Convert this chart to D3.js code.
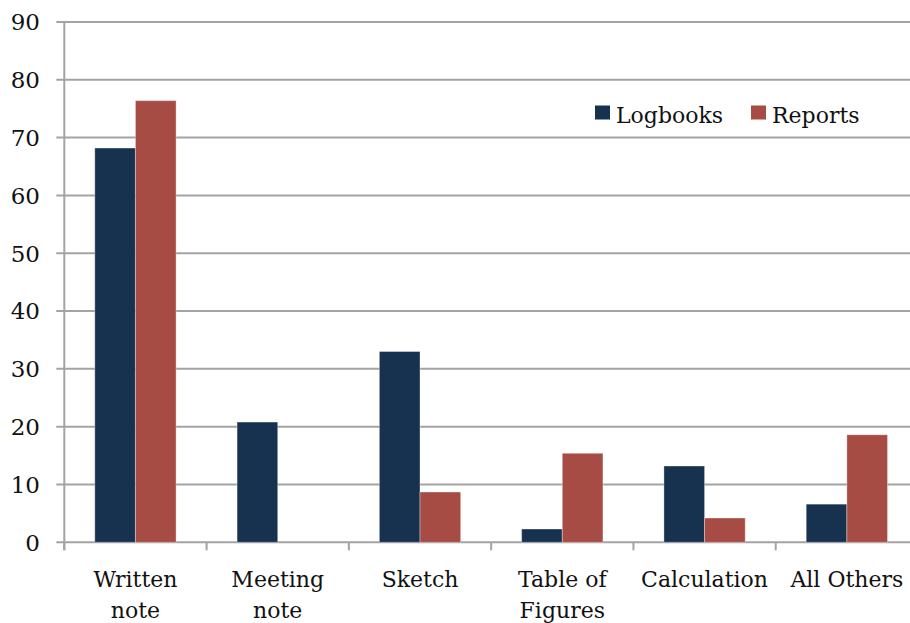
<!DOCTYPE html>
<html>
<head>
<meta charset="utf-8">
<script src="https://cdn.jsdelivr.net/npm/d3@7"></script>
<style>
  body { margin: 0; background: #fff; }
</style>
</head>
<body>
<div id="plot"></div>
<script>
const categories = [["Written", "note"], ["Meeting", "note"], ["Sketch"], ["Table of", "Figures"], ["Calculation"], ["All Others"]];
const seriesNames = ["Logbooks", "Reports"];
const logbooks = [68.2, 20.8, 33.0, 2.3, 13.2, 6.6];
const reports = [76.4, 0, 8.7, 15.4, 4.2, 18.6];
const yTicks = [0, 10, 20, 30, 40, 50, 60, 70, 80, 90];

const width = 910, height = 623;
const plotLeft = 64.3, plotRight = 918, plotTop = 22, plotBottom = 542.3;
const colors = ["#17324f", "#a64c45"];
const gridColor = "#a3a3a3";
const fontFamily = "'DejaVu Serif', serif";

const svg = d3.select("div#plot")
  .append("svg")
  .attr("width", width)
  .attr("height", height)
  .style("font-family", fontFamily);

const x = d3.scaleBand()
  .domain(d3.range(categories.length))
  .range([plotLeft, plotRight])
  .paddingInner(0)
  .paddingOuter(0);

const x1 = d3.scaleBand()
  .domain(seriesNames)
  .range([0, x.bandwidth()])
  .paddingInner(0)
  .paddingOuter(0.75);

const y = d3.scaleLinear()
  .domain([0, 90])
  .range([plotBottom, plotTop]);

// horizontal grid lines + y ticks
svg.selectAll(".grid")
  .data(yTicks)
  .join("line")
  .attr("class", "grid")
  .attr("x1", plotLeft - 8)
  .attr("x2", width)
  .attr("y1", d => y(d))
  .attr("y2", d => y(d))
  .attr("stroke", gridColor)
  .attr("stroke-width", 2);

svg.selectAll(".ylabel")
  .data(yTicks)
  .join("text")
  .attr("class", "ylabel")
  .attr("x", 40)
  .attr("y", d => y(d))
  .attr("dy", "0.36em")
  .attr("text-anchor", "end")
  .attr("fill", "#111")
  .style("font-size", "23px")
  .text(d => d);

// y axis line
svg.append("line")
  .attr("x1", plotLeft).attr("x2", plotLeft)
  .attr("y1", plotTop).attr("y2", plotBottom + 8)
  .attr("stroke", gridColor)
  .attr("stroke-width", 2);

// category ticks
svg.selectAll(".xtick")
  .data(d3.range(categories.length + 1))
  .join("line")
  .attr("class", "xtick")
  .attr("x1", d => plotLeft + d * x.bandwidth())
  .attr("x2", d => plotLeft + d * x.bandwidth())
  .attr("y1", plotBottom)
  .attr("y2", plotBottom + 8)
  .attr("stroke", gridColor)
  .attr("stroke-width", 2);

// bars
const series = [logbooks, reports];
series.forEach(function(vals, si) {
  svg.selectAll(".bar" + si)
    .data(vals)
    .join("rect")
    .attr("class", "bar" + si)
    .attr("x", (d, i) => x(i) + x1(seriesNames[si]))
    .attr("width", x1.bandwidth())
    .attr("y", d => y(d))
    .attr("height", d => y(0) - y(d))
    .attr("fill", colors[si])
    .attr("stroke", d => d > 0 ? "rgba(255,255,255,0.35)" : "none")
    .attr("stroke-width", 1);
});

// x labels
const xl = svg.selectAll(".xlabel")
  .data(categories)
  .join("text")
  .attr("class", "xlabel")
  .attr("text-anchor", "middle")
  .attr("fill", "#111")
  .style("font-size", "22px");

xl.selectAll("tspan")
  .data((d, i) => d.map(t => ({ t: t, i: i })))
  .join("tspan")
  .attr("x", d => x(d.i) + x.bandwidth() / 2)
  .attr("y", (d, j) => 587 + j * 31)
  .text(d => d.t);

// legend
const legendX = [595, 751];
seriesNames.forEach(function(name, si) {
  svg.append("rect")
    .attr("x", legendX[si])
    .attr("y", 105.5)
    .attr("width", 15)
    .attr("height", 14)
    .attr("fill", colors[si]);
  svg.append("text")
    .attr("x", legendX[si] + 21)
    .attr("y", 123)
    .attr("fill", "#111")
    .style("font-size", "22px")
    .text(name);
});
</script>
</body>
</html>
